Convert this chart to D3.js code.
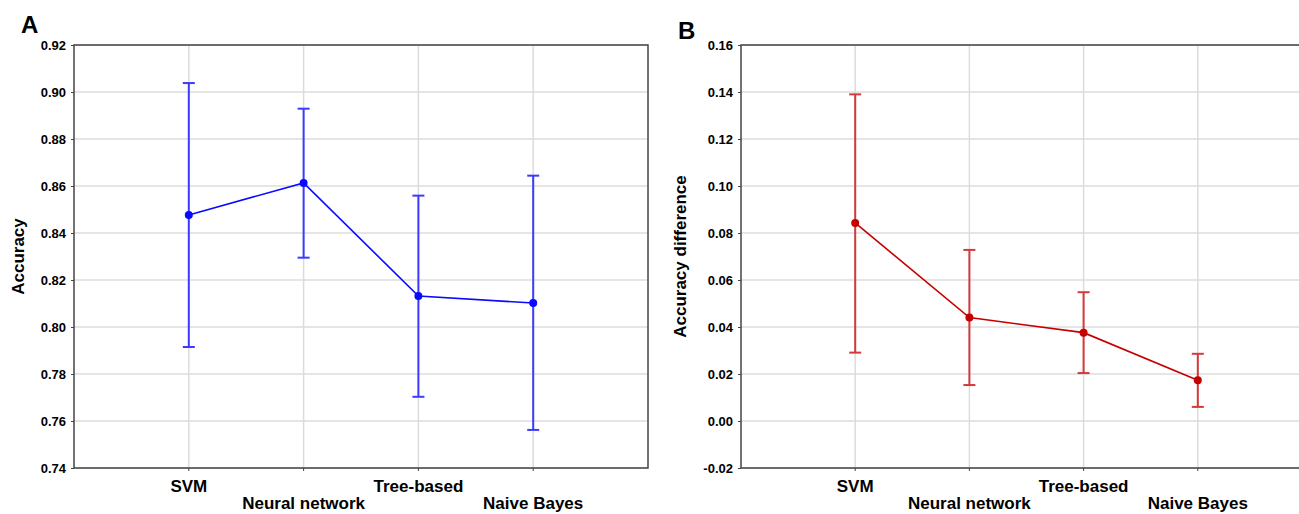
<!DOCTYPE html>
<html>
<head>
<meta charset="utf-8">
<script src="https://cdn.jsdelivr.net/npm/d3@7"></script>
<style>
  body { margin: 0; background: #fff; }
  svg text { font-family: Arial, "Liberation Sans", sans-serif; font-weight: bold; fill: #000; }
</style>
</head>
<body>
<div id="chart"></div>
<script>
// Categories shared by both panels
var categories = ["SVM", "Neural network", "Tree-based", "Naive Bayes"];

// Panel A: accuracy (mean and interval)
var accMean  = [0.8477, 0.8613, 0.8132, 0.8102];
var accUpper = [0.9038, 0.8929, 0.8559, 0.8644];
var accLower = [0.7915, 0.8295, 0.7703, 0.7562];
var accTicks = [0.74, 0.76, 0.78, 0.80, 0.82, 0.84, 0.86, 0.88, 0.90, 0.92];

// Panel B: accuracy difference (mean and interval)
var diffMean  = [0.0843, 0.0440, 0.0376, 0.0173];
var diffUpper = [0.1390, 0.0728, 0.0548, 0.0286];
var diffLower = [0.0291, 0.0153, 0.0204, 0.0060];
var diffTicks = [-0.02, 0.00, 0.02, 0.04, 0.06, 0.08, 0.10, 0.12, 0.14, 0.16];

var W = 1299, H = 514;
var fmt = d3.format(".2f");

var svg = d3.select("#chart").append("svg")
    .attr("width", W)
    .attr("height", H);

function drawPanel(opt) {
  var x = d3.scalePoint()
      .domain(categories)
      .range([opt.left, opt.right])
      .padding(1);

  var y = d3.scaleLinear()
      .domain([opt.ticks[0], opt.ticks[opt.ticks.length - 1]])
      .range([opt.bottom, opt.top]);

  var g = svg.append("g");

  // grid lines
  g.selectAll("line.hgrid")
    .data(opt.ticks)
    .enter().append("line")
      .attr("x1", opt.left).attr("x2", opt.right)
      .attr("y1", function(d) { return y(d); })
      .attr("y2", function(d) { return y(d); })
      .style("stroke", "#dcdcdc")
      .style("stroke-width", 1.5);

  g.selectAll("line.vgrid")
    .data(categories)
    .enter().append("line")
      .attr("x1", function(d) { return x(d); })
      .attr("x2", function(d) { return x(d); })
      .attr("y1", opt.top).attr("y2", opt.bottom)
      .style("stroke", "#dcdcdc")
      .style("stroke-width", 1.5);

  // frame
  g.append("rect")
    .attr("x", opt.left).attr("y", opt.top)
    .attr("width", opt.right - opt.left)
    .attr("height", opt.bottom - opt.top)
    .style("fill", "none")
    .style("stroke", "#444")
    .style("stroke-width", 1.5);

  // y axis ticks + labels (plain hyphen for negatives, like the original)
  var yAxis = d3.axisLeft(y)
      .tickValues(opt.ticks)
      .tickSize(3)
      .tickPadding(5)
      .tickFormat(function(d) { return fmt(d).replace("\u2212", "-"); });

  var ya = g.append("g")
      .attr("transform", "translate(" + opt.left + ",0)")
      .call(yAxis);
  ya.select(".domain").remove();
  ya.selectAll("line").style("stroke", "#444");
  ya.selectAll("text")
    .style("font-size", "13px")
    .style("font-family", "Arial, 'Liberation Sans', sans-serif")
    .style("font-weight", "bold")
    .attr("fill", "#000");

  // small ticks on x axis
  g.selectAll("line.xtick")
    .data(categories)
    .enter().append("line")
      .attr("x1", function(d) { return x(d); })
      .attr("x2", function(d) { return x(d); })
      .attr("y1", opt.bottom).attr("y2", opt.bottom + 3)
      .style("stroke", "#444");

  // staggered category labels
  g.selectAll("text.xlab")
    .data(categories)
    .enter().append("text")
      .attr("x", function(d) { return x(d); })
      .attr("y", function(d, i) { return i % 2 === 0 ? opt.bottom + 24 : opt.bottom + 41; })
      .attr("text-anchor", "middle")
      .style("font-size", "17px")
      .text(function(d) { return d; });

  // y title
  g.append("text")
    .attr("transform", "translate(" + opt.titleX + "," + ((opt.top + opt.bottom) / 2) + ") rotate(-90)")
    .attr("text-anchor", "middle")
    .style("font-size", "17px")
    .text(opt.title);

  // panel letter
  g.append("text")
    .attr("x", opt.letterX).attr("y", opt.letterY)
    .style("font-size", "24px")
    .text(opt.letter);

  // error bars
  var bars = g.selectAll("g.err")
    .data(categories)
    .enter().append("g");

  bars.append("line")
    .attr("x1", function(d) { return x(d); })
    .attr("x2", function(d) { return x(d); })
    .attr("y1", function(d, i) { return y(opt.upper[i]); })
    .attr("y2", function(d, i) { return y(opt.lower[i]); })
    .style("stroke", opt.barColor)
    .style("stroke-width", 2);

  bars.append("line")
    .attr("x1", function(d) { return x(d) - 6; })
    .attr("x2", function(d) { return x(d) + 6; })
    .attr("y1", function(d, i) { return y(opt.upper[i]); })
    .attr("y2", function(d, i) { return y(opt.upper[i]); })
    .style("stroke", opt.barColor)
    .style("stroke-width", 2);

  bars.append("line")
    .attr("x1", function(d) { return x(d) - 6; })
    .attr("x2", function(d) { return x(d) + 6; })
    .attr("y1", function(d, i) { return y(opt.lower[i]); })
    .attr("y2", function(d, i) { return y(opt.lower[i]); })
    .style("stroke", opt.barColor)
    .style("stroke-width", 2);

  // mean line
  var line = d3.line()
      .x(function(d, i) { return x(categories[i]); })
      .y(function(d) { return y(d); });

  g.append("path")
    .datum(opt.mean)
    .attr("d", line)
    .style("fill", "none")
    .style("stroke", opt.lineColor)
    .style("stroke-width", 1.6);

  g.selectAll("circle.pt")
    .data(opt.mean)
    .enter().append("circle")
      .attr("cx", function(d, i) { return x(categories[i]); })
      .attr("cy", function(d) { return y(d); })
      .attr("r", 4)
      .style("fill", opt.lineColor);
}

drawPanel({
  left: 74, right: 648, top: 45, bottom: 468,
  ticks: accTicks, mean: accMean, upper: accUpper, lower: accLower,
  title: "Accuracy", titleX: 24,
  letter: "A", letterX: 21, letterY: 33,
  lineColor: "#0a0aff", barColor: "#3b3bff"
});

drawPanel({
  left: 741, right: 1312, top: 45, bottom: 468,
  ticks: diffTicks, mean: diffMean, upper: diffUpper, lower: diffLower,
  title: "Accuracy difference", titleX: 686,
  letter: "B", letterX: 678, letterY: 39,
  lineColor: "#c40000", barColor: "#d33a3a"
});
</script>
</body>
</html>
